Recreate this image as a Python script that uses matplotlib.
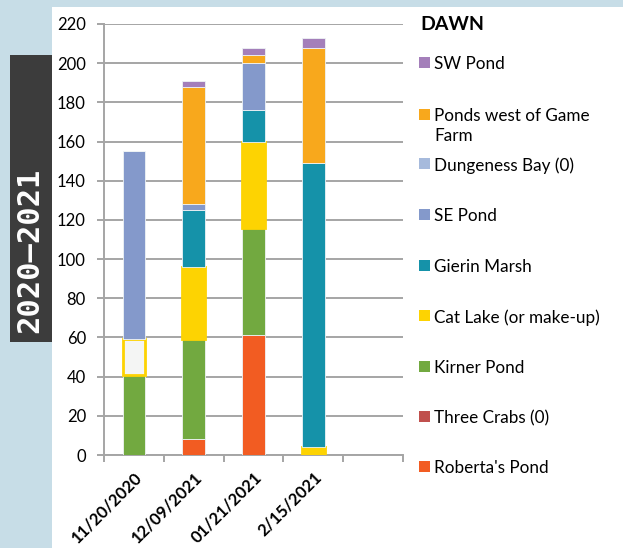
import matplotlib.pyplot as plt
import matplotlib.patches as mpatches
import numpy as np

# data (stacked bottom -> top)
dates = ["11/20/2020", "12/09/2021", "01/21/2021", "2/15/2021"]
roberta = [0, 8, 61, 0]
three_crabs = [0, 0, 0, 0]
kirner = [41, 51, 55, 0]
cat_lake = [18, 37, 44, 4]
gierin = [0, 29, 16, 145]
se_pond = [96, 3, 24, 0]
dungeness = [0, 0, 0, 0]
ponds_west = [0, 60, 4, 59]
sw_pond = [0, 3, 4, 5]

names = ["Roberta's Pond", "Three Crabs (0)", "Kirner Pond", "Cat Lake (or make-up)",
         "Gierin Marsh", "SE Pond", "Dungeness Bay (0)", "Ponds west of Game\nFarm", "SW Pond"]
series = [roberta, three_crabs, kirner, cat_lake, gierin, se_pond, dungeness, ponds_west, sw_pond]
colors = ["#f25c22", "#c0504d", "#72a940", "#fdd302", "#1592a9", "#8499cb", "#a6badc", "#f8a81c", "#a47fba"]

plt.rcParams['font.family'] = ['Lato', 'DejaVu Sans']

W, H = 623, 548
fig = plt.figure(figsize=(W / 100, H / 100), dpi=100)
fig.patch.set_facecolor("#c7dde7")

# white panel
fig.patches.append(mpatches.Rectangle((52 / W, 0), 1, 1 - 7 / H, transform=fig.transFigure,
                                      facecolor="white", edgecolor="none", zorder=-2))
# dark side box
fig.patches.append(mpatches.Rectangle((10 / W, 1 - 342 / H), 42 / W, 287 / H, transform=fig.transFigure,
                                      facecolor="#3c3c3c", edgecolor="none", zorder=-1))
fig.text(30 / W, 1 - 250 / H, "2020\u20132021", rotation=90, color="white", fontsize=22,
         fontweight="bold", family="DejaVu Sans Mono", ha="center", va="center", zorder=2)

ax = fig.add_axes([104 / W, 1 - 455 / H, 299 / W, 431 / H])
ax.set_facecolor("none")

x = np.arange(len(dates))
bottom = np.zeros(len(dates))
for name, vals, col in zip(names, series, colors):
    vals = np.array(vals, dtype=float)
    if name.startswith("Cat Lake"):
        faces = ["#f4f5f4"] + [col] * (len(dates) - 1)
        ax.bar(x, vals, 0.38, bottom=bottom, color=faces, edgecolor=col, linewidth=2, zorder=3)
    else:
        ax.bar(x, vals, 0.38, bottom=bottom, color=col, edgecolor="#eef3f5", linewidth=0.6, zorder=3)
    bottom += vals

ax.set_xlim(-0.5, 4.5)
ax.set_ylim(0, 220)
ax.set_yticks(np.arange(0, 221, 20))
ax.yaxis.grid(True, color="#a5a5a5", linewidth=1.4)
ax.set_axisbelow(True)
for s in ["top", "right"]:
    ax.spines[s].set_visible(False)
ax.spines["left"].set_color("#a5a5a5")
ax.spines["left"].set_linewidth(1.4)
ax.spines["bottom"].set_color("#a5a5a5")
ax.spines["bottom"].set_linewidth(1.4)

ax.set_xticks(x)
ax.set_xticklabels(dates, rotation=45, ha="right", rotation_mode="anchor", fontsize=12, fontweight="bold")
ax.tick_params(axis="x", length=0, pad=10)
ax.set_xticks(np.arange(-0.5, 4.6, 1), minor=True)
ax.tick_params(axis="x", which="minor", length=5, width=1.4, color="#a5a5a5")
ax.tick_params(axis="y", length=5, width=1.4, color="#a5a5a5", labelsize=12, pad=8)

# legend (top entry first)
fig.text(420 / W, 1 - 25 / H, "DAWN", fontsize=14, fontweight="bold", va="center", ha="left")
rows = [63, 115, 164, 215, 266, 316, 367, 417, 467]
for row, name, col in zip(rows, names[::-1], colors[::-1]):
    fig.patches.append(mpatches.Rectangle((419 / W, 1 - (row + 5) / H), 11 / W, 11 / H,
                                          transform=fig.transFigure, facecolor=col, edgecolor="none"))
    fig.text(434 / W, 1 - (row - 7) / H, name, fontsize=12.3, va="top", ha="left", linespacing=1.3)

fig.savefig("out.png", dpi=100)
